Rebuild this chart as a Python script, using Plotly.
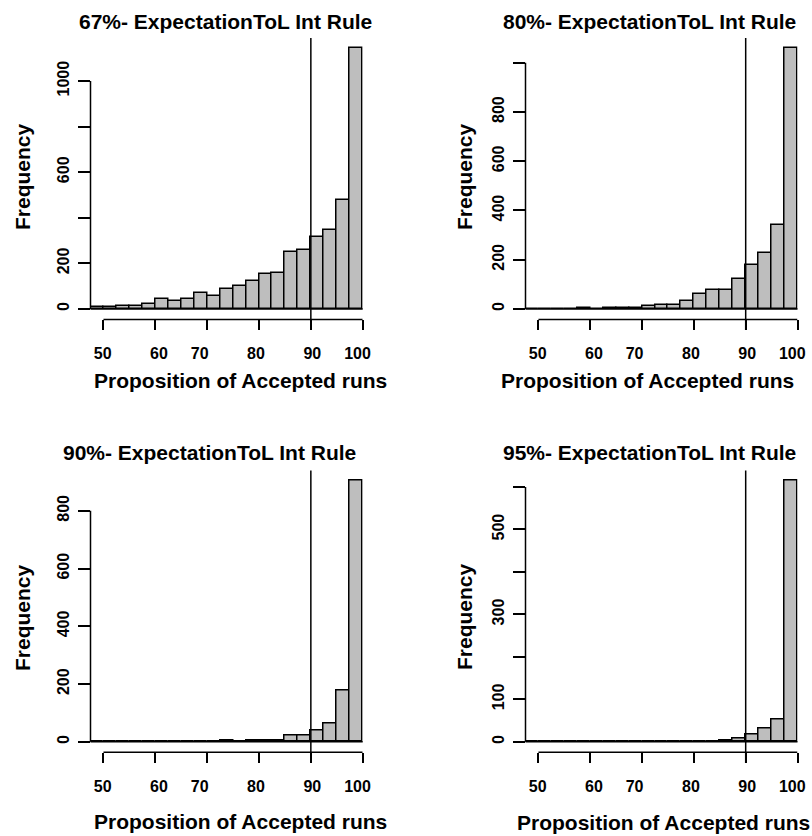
import plotly.graph_objects as go

# ---- data ----
bin_left = [47.5, 50, 52.5, 55, 57.5, 60, 62.5, 65, 67.5, 70, 72.5, 75,
            77.5, 80, 82.5, 85, 87.5, 90, 92.5, 95, 97.5]
bin_width = 2.5
counts_67 = [10, 10, 15, 12, 22, 44, 33, 42, 68, 55, 88, 101, 121, 152, 159,
             251, 257, 314, 346, 478, 1143]
counts_80 = [0, 0, 0, 0, 5, 1, 3, 3, 3, 12, 17, 17, 34, 60, 76, 76, 120, 178,
             228, 341, 1058]
counts_90 = [0, 0, 0, 0, 0, 0, 0, 0, 0, 0, 3, 0, 3, 3, 4, 21, 21, 40, 64, 176,
             903]
counts_95 = [0, 0, 0, 0, 0, 0, 0, 0, 0, 0, 0, 0, 0, 0, 0, 4, 8, 16, 32, 53, 614]

titles = ["67%- ExpectationToL Int Rule", "80%- ExpectationToL Int Rule",
          "90%- ExpectationToL Int Rule", "95%- ExpectationToL Int Rule"]
x_ticks = [50, 60, 70, 80, 90, 100]
NB = "\u00a0"
x_ticktext = [NB + "50", NB * 3 + "60", "70" + NB * 2, "80", NB * 2 + "90",
              "100" + NB]
y_ticks = [[0, 200, 400, 600, 800, 1000],
           [0, 200, 400, 600, 800, 1000],
           [0, 200, 400, 600, 800],
           [0, 100, 200, 300, 400, 500, 600]]
y_ticktext = [["0", "200", "", "600", "", "1000"],
              ["0", "200", "400", "600", "800", ""],
              ["0", "200", "400", "600", "800"],
              ["0", "100", "", "300", "", "500", ""]]
threshold = 90
x_title = "Proposition of Accepted runs"
y_title = "Frequency"

# ---- layout geometry (pixels) ----
W, H = 812, 836
cols = [(90.5, 362.7), (525.5, 797.5)]
rows = [(38.0, 319.4), (470.6, 752.3)]
title_pos = [(225, 22), (649, 22), (209, 452), (649, 452)]
xtitle_pos = [(240, 380), (647, 380), (240, 821), (663, 822)]
ytitle_pos = [(22, 177), (464, 177), (22, 618), (464, 617)]

FONT = "Liberation Sans, Arial, sans-serif"
all_counts = [counts_67, counts_80, counts_90, counts_95]

fig = go.Figure()
layout = dict(width=W, height=H, margin=dict(l=0, r=0, t=0, b=0),
              paper_bgcolor="white", plot_bgcolor="white", showlegend=False,
              bargap=0)
shapes, annotations = [], []

centers = [b + bin_width / 2 for b in bin_left]

for i, counts in enumerate(all_counts):
    r, c = divmod(i, 2)
    xa = "x" if i == 0 else f"x{i+1}"
    ya = "y" if i == 0 else f"y{i+1}"
    xkey = "xaxis" if i == 0 else f"xaxis{i+1}"
    ykey = "yaxis" if i == 0 else f"yaxis{i+1}"
    fig.add_trace(go.Bar(x=centers, y=counts, width=[bin_width] * len(counts),
                         marker=dict(color="#bebebe",
                                     line=dict(color="black", width=1.5)),
                         xaxis=xa, yaxis=ya))
    x0p, x1p = cols[c]
    ytop, ybot = rows[r]
    ymax = max(counts)
    layout[xkey] = dict(domain=[x0p / W, x1p / W],
                        range=[bin_left[0], bin_left[-1] + bin_width],
                        anchor=ya, tickvals=x_ticks, ticktext=x_ticktext,
                        ticks="outside", ticklen=10, tickwidth=1.5,
                        tickcolor="black", showline=False, showgrid=False,
                        zeroline=False, ticklabelstandoff=9, automargin=False,
                        ticklabeloverflow="allow", ticklabelshift=-3,
                        tickfont=dict(family=FONT, size=16, color="black",
                                      weight="bold"))
    layout[ykey] = dict(domain=[(H - ybot) / H, (H - ytop) / H],
                        range=[-0.04 * ymax, 1.04 * ymax], anchor=xa,
                        tickvals=y_ticks[i], ticktext=y_ticktext[i],
                        tickangle=-90, ticks="outside", ticklen=12,
                        tickwidth=1.5, tickcolor="black", showline=False,
                        showgrid=False, zeroline=False, ticklabelstandoff=2,
                        automargin=False,
                        tickfont=dict(family=FONT, size=16, color="black",
                                      weight="bold"))
    dom_h = ybot - ytop
    # x axis line (from first to last tick)
    shapes.append(dict(type="line", xref=xa, yref=f"{ya} domain",
                       x0=x_ticks[0], x1=x_ticks[-1], y0=0, y1=0,
                       line=dict(color="black", width=1.5)))
    # y axis line (from first to last tick)
    shapes.append(dict(type="line", xref=f"{xa} domain", yref=ya,
                       x0=0, x1=0, y0=y_ticks[i][0], y1=y_ticks[i][-1],
                       line=dict(color="black", width=1.5)))
    # baseline at zero
    shapes.append(dict(type="line", xref=f"{xa} domain", yref=ya,
                       x0=0, x1=1, y0=0, y1=0,
                       line=dict(color="black", width=1.5)))
    # threshold line
    shapes.append(dict(type="line", xref=xa, yref=f"{ya} domain",
                       x0=threshold, x1=threshold, y0=-10.6 / dom_h, y1=1,
                       line=dict(color="black", width=1.5)))
    tx, ty = title_pos[i]
    annotations.append(dict(text=titles[i], x=tx / W, y=1 - ty / H,
                            xref="paper", yref="paper", showarrow=False,
                            xanchor="center", yanchor="middle",
                            font=dict(family=FONT, size=21, color="black",
                                      weight="bold")))
    tx, ty = xtitle_pos[i]
    annotations.append(dict(text=x_title, x=tx / W, y=1 - ty / H,
                            xref="paper", yref="paper", showarrow=False,
                            xanchor="center", yanchor="middle",
                            font=dict(family=FONT, size=21, color="black",
                                      weight="bold")))
    tx, ty = ytitle_pos[i]
    annotations.append(dict(text=y_title, x=tx / W, y=1 - ty / H,
                            xref="paper", yref="paper", showarrow=False,
                            xanchor="center", yanchor="middle", textangle=-90,
                            font=dict(family=FONT, size=21, color="black",
                                      weight="bold")))

layout["shapes"] = shapes
layout["annotations"] = annotations
fig.update_layout(**layout)
fig.write_html("out.html",
               config={"displayModeBar": False},
               post_script=("document.body.style.margin='0';"
                            "document.body.style.overflow='hidden';"))
